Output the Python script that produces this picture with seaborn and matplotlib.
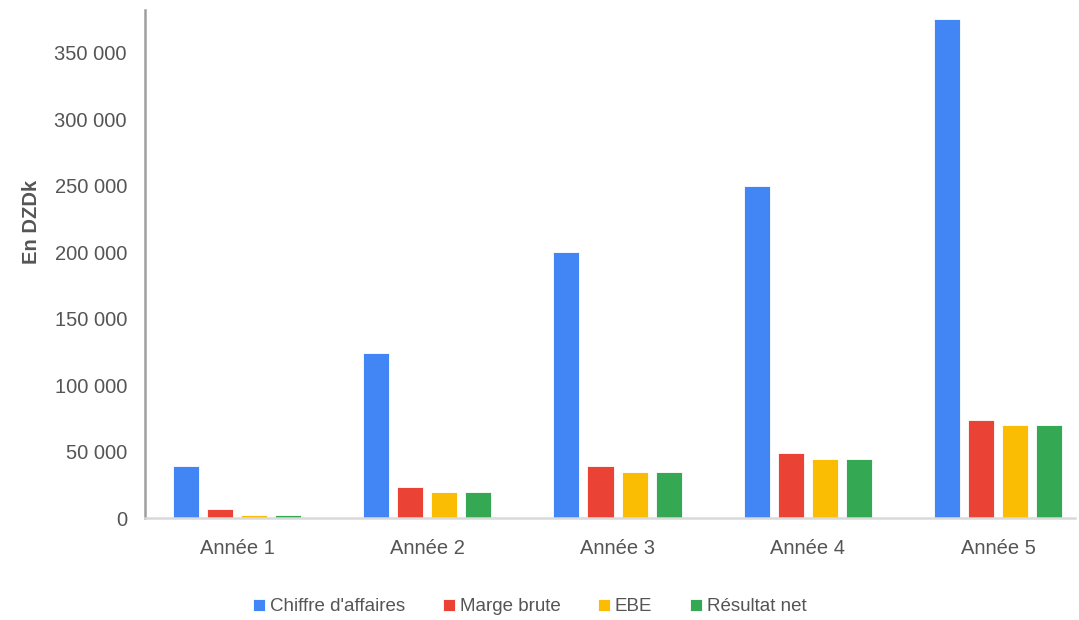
import pandas as pd
import numpy as np
import matplotlib.pyplot as plt
import seaborn as sns
from matplotlib.ticker import FuncFormatter

sns.set_theme(style="white")
plt.rcParams['font.family'] = ['Liberation Sans Narrow', 'Liberation Sans', 'DejaVu Sans']

annees = ['Année 1', 'Année 2', 'Année 3', 'Année 4', 'Année 5']
series = ["Chiffre d'affaires", 'Marge brute', 'EBE', 'Résultat net']
chiffre_affaires = [39000, 124000, 200000, 250000, 375000]
marge_brute = [6500, 23500, 39000, 48700, 74000]
ebe = [2500, 19500, 34600, 44700, 69800]
resultat_net = [2500, 19500, 34600, 44700, 69800]
couleurs = ['#4285F4', '#EA4335', '#FBBC04', '#34A853']

df = pd.DataFrame({
    'Annee': annees,
    series[0]: chiffre_affaires,
    series[1]: marge_brute,
    series[2]: ebe,
    series[3]: resultat_net,
})
df_long = df.melt(id_vars='Annee', var_name='Serie', value_name='Valeur')

fig = plt.figure(figsize=(10.79, 6.2), dpi=100)
ax = fig.add_axes([0.1344, 0.1645, 0.8619, 0.8194])

sns.barplot(data=df_long, x='Annee', y='Valeur', hue='Serie', hue_order=series,
            palette=couleurs, width=0.716, gap=0.235, edgecolor='white',
            linewidth=0.6, saturation=1, ax=ax, legend=True)

ax.set_xlim(-0.484, 4.405)
ax.set_ylim(0, 382000)
ax.set_yticks(np.arange(0, 350001, 50000))
ax.yaxis.set_major_formatter(FuncFormatter(lambda v, p: f"{int(v):,}".replace(",", " ")))
ax.tick_params(axis='both', length=0, labelsize=14.5, labelcolor='#555555')
ax.tick_params(axis='y', pad=13)
ax.tick_params(axis='x', pad=15)
ax.set_xlabel('')
ax.set_ylabel('En DZDk', fontsize=14.5, fontweight='bold', color='#555555')
ax.yaxis.set_label_coords(-0.112, 0.583)

for s in ['top', 'right']:
    ax.spines[s].set_visible(False)
ax.spines['left'].set_color('#9e9e9e')
ax.spines['left'].set_linewidth(1.8)
ax.spines['bottom'].set_color('#d9d9d9')
ax.spines['bottom'].set_linewidth(1.8)
ax.grid(False)

handles, labels = ax.get_legend_handles_labels()
ax.get_legend().remove()
fig.legend(handles, labels, loc='center', bbox_to_anchor=(0.491, 0.021), ncol=4,
           frameon=False, fontsize=13.5, labelcolor='#555555',
           handlelength=0.65, handleheight=0.65, handletextpad=0.25, columnspacing=2.0)

fig.savefig('out.png', dpi=100)
